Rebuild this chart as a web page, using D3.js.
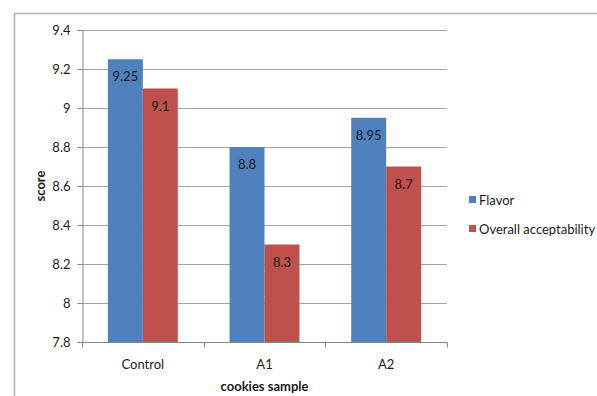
<!DOCTYPE html>
<html>
<head>
<meta charset="utf-8">
<script src="https://cdn.jsdelivr.net/npm/d3@7"></script>
<style>
  html, body { margin: 0; padding: 0; background: #fff; }
  svg { display: block; font-family: Lato, "Open Sans", sans-serif; }
</style>
</head>
<body>
<svg id="chart" width="597" height="396"></svg>
<script>
// Sensory scores for cookie samples
const categories = ["Control", "A1", "A2"];
const seriesNames = ["Flavor", "Overall acceptability"];
const flavor = [9.25, 8.8, 8.95];
const overall = [9.1, 8.3, 8.7];
const yTicks = [7.8, 8, 8.2, 8.4, 8.6, 8.8, 9, 9.2, 9.4];
const colors = ["#4f81bd", "#c0504d"];

const seriesValues = [flavor, overall];
const svg = d3.select("#chart");
const fs = 13;

// Outer chart frame (top and left edges visible)
svg.append("line").attr("x1", 14.5).attr("x2", 597).attr("y1", 13.5).attr("y2", 13.5)
  .attr("stroke", "#b3b3b3").attr("stroke-width", 1.5);
svg.append("line").attr("x1", 14.5).attr("x2", 14.5).attr("y1", 13.5).attr("y2", 396)
  .attr("stroke", "#b3b3b3").attr("stroke-width", 1.5);

const plotLeft = 82, plotRight = 447, plotTop = 30, plotBottom = 342;

const x = d3.scaleBand().domain(categories).range([plotLeft, plotRight]).paddingInner(0).paddingOuter(0);
const inner = d3.scaleBand().domain(seriesNames).range([0, x.bandwidth()]).paddingInner(0).paddingOuter(0.74);
const y = d3.scaleLinear().domain([7.8, 9.4]).range([plotBottom, plotTop]);

// Horizontal gridlines
svg.append("g").selectAll("line").data(yTicks.filter(t => t > 7.8)).join("line")
  .attr("x1", plotLeft).attr("x2", plotRight)
  .attr("y1", d => Math.round(y(d)) + 0.5).attr("y2", d => Math.round(y(d)) + 0.5)
  .attr("stroke", "#a6a6a6").attr("stroke-width", 1);

// Bars
const rows = (c, i) => seriesNames.map((s, j) => ({ s, j, v: seriesValues[j][i] }));
const groups = svg.append("g").selectAll("g").data(categories).join("g")
  .attr("transform", d => `translate(${x(d)},0)`);
groups.selectAll("rect").data(rows).join("rect")
  .attr("x", d => inner(d.s))
  .attr("width", inner.bandwidth())
  .attr("y", d => y(d.v))
  .attr("height", d => y(7.8) - y(d.v))
  .attr("fill", d => colors[d.j]);

// Value labels inside bar tops
groups.selectAll("text").data(rows).join("text")
  .attr("x", d => inner(d.s) + inner.bandwidth() / 2)
  .attr("y", d => y(d.v) + 22)
  .attr("text-anchor", "middle")
  .attr("font-size", fs)
  .attr("fill", "#1a1a1a")
  .text(d => d.v);

// Y axis
const yAxis = d3.axisLeft(y).tickValues(yTicks).tickSize(5).tickPadding(7)
  .tickFormat(d => String(+d.toFixed(1)));
const gy = svg.append("g").attr("transform", `translate(${plotLeft + 0.5},0)`).call(yAxis);
gy.select(".domain").attr("stroke", "#868686");
gy.selectAll(".tick line").attr("stroke", "#868686");
gy.selectAll(".tick text").attr("font-size", fs).attr("fill", "#1a1a1a")
  .attr("font-family", "Lato, 'Open Sans', sans-serif");

// X axis with category boundary ticks
const gx = svg.append("g").attr("transform", `translate(0,${plotBottom + 0.5})`);
gx.append("line").attr("x1", plotLeft).attr("x2", plotRight + 0.5).attr("stroke", "#868686");
gx.selectAll("line.tk").data(categories.map(c => x(c)).concat([plotRight])).join("line")
  .attr("class", "tk")
  .attr("x1", d => Math.round(d) + 0.5).attr("x2", d => Math.round(d) + 0.5)
  .attr("y1", 0).attr("y2", 5).attr("stroke", "#868686");
gx.selectAll("text").data(categories).join("text")
  .attr("x", d => x(d) + x.bandwidth() / 2)
  .attr("y", 26)
  .attr("text-anchor", "middle")
  .attr("font-size", fs).attr("fill", "#1a1a1a")
  .text(d => d);

// Axis titles
svg.append("text").attr("x", (plotLeft + plotRight) / 2).attr("y", 391)
  .attr("text-anchor", "middle").attr("font-size", fs).attr("font-weight", "bold")
  .attr("fill", "#1a1a1a").text("cookies sample");
svg.append("text").attr("transform", `translate(45,${(plotTop + plotBottom) / 2}) rotate(-90)`)
  .attr("text-anchor", "middle").attr("font-size", fs).attr("font-weight", "bold")
  .attr("fill", "#1a1a1a").text("score");

// Legend
const legend = svg.append("g").selectAll("g").data(seriesNames).join("g")
  .attr("transform", (d, i) => `translate(469,${200 + i * 29})`);
legend.append("rect").attr("x", 0).attr("y", -4).attr("width", 7).attr("height", 7)
  .attr("fill", (d, i) => colors[i]);
legend.append("text").attr("x", 10).attr("y", 4.5)
  .attr("font-size", fs).attr("fill", "#1a1a1a").text(d => d);
</script>
</body>
</html>
